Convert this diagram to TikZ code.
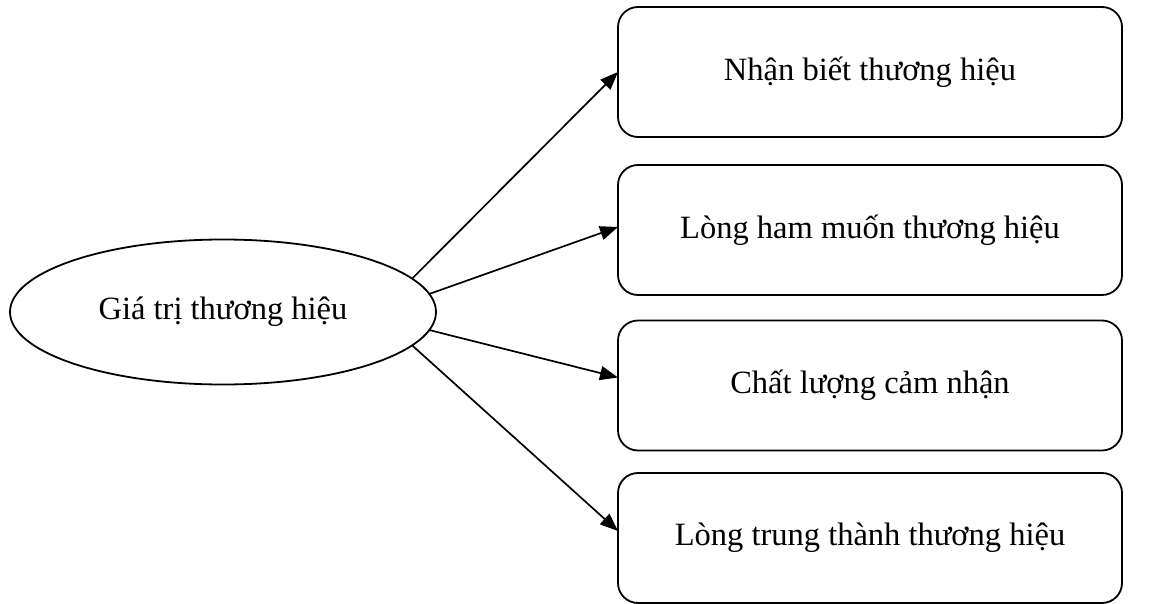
\documentclass[tikz,border=0pt]{standalone}
\usepackage{fontspec}
\setmainfont{Liberation Serif}
\usetikzlibrary{shapes.geometric,arrows.meta}
\begin{document}
\begin{tikzpicture}[x=1pt,y=-1pt,
  lbl/.style={font=\fontsize{32.5}{38}\selectfont},
  root/.style={draw,line width=1.8pt,ellipse,minimum width=426pt,minimum height=145pt,inner sep=0pt,outer sep=0pt,lbl},
  item/.style={draw,line width=1.8pt,rectangle,rounded corners=20pt,minimum width=504pt,minimum height=130pt,inner sep=0pt,outer sep=0pt,lbl},
  link/.style={line width=1.7pt,-{Triangle[length=18pt,width=14pt]}}]
\useasboundingbox (0,0) rectangle (1154,604);
% central concept
\node[root] (g) at (223,312) {Giá trị thương hiệu};
% the four components
\node[item] (b1) at (870,72) {Nhận biết thương hiệu};
\node[item] (b2) at (870,230) {Lòng ham muốn thương hiệu};
\node[item] (b3) at (870,385.5) {Chất lượng cảm nhận};
\node[item] (b4) at (870,538) {Lòng trung thành thương hiệu};
% connectors
\draw[link] (g.10.4) -- (b1.west);
\draw[link] (g.5.3) -- ([yshift=3pt]b2.west);
\draw[link] (g.-5.5) -- ([yshift=8pt]b3.west);
\draw[link] (g.-10.7) -- ([yshift=7pt]b4.west);
\end{tikzpicture}
\end{document}
